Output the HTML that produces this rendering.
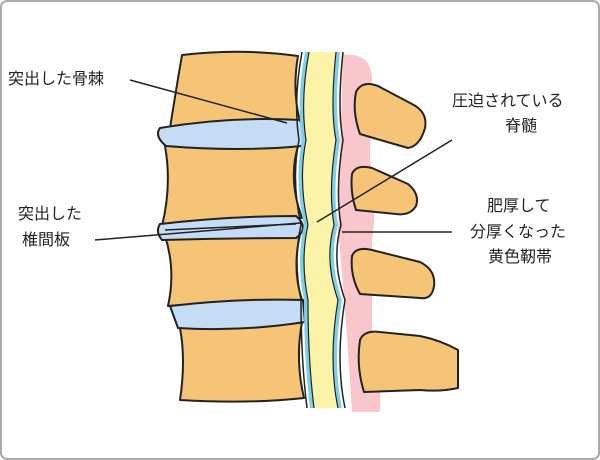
<!DOCTYPE html>
<html><head><meta charset="utf-8"><style>
html,body{margin:0;padding:0;background:#fff;}
svg{display:block;}
text{font-family:"Liberation Sans","Noto Sans CJK JP",sans-serif;font-size:16px;fill:#222;}
</style></head><body>
<svg width="600" height="460" viewBox="0 0 600 460">
<rect x="1" y="1" width="598" height="458" rx="6" fill="#fff" stroke="#aaa" stroke-width="2"/>
<path d="M343,55 Q372,52 372,80 L370,160 Q378,200 372,240 L372,330 Q382,380 380,412 L352,412 Q345,300 338,230 Q340,150 343,55Z" fill="#f9c6cc"/>
<g fill="#f5c477" stroke="#222" stroke-width="2" stroke-linejoin="round">
<path d="M182,55 Q240,48 298,56 Q292,90 300,122 Q240,118 170,128 Q176,90 182,55Z"/>
<path d="M165,146 Q240,140 298,146 Q288,180 302,218 Q240,216 162,226 Q172,185 165,146Z"/>
<path d="M165,236 Q240,230 300,234 Q292,270 302,300 Q240,300 168,306 Q176,270 165,236Z"/>
<path d="M180,328 Q240,322 302,322 Q295,360 304,398 Q250,404 180,400 Q186,360 180,328Z"/>
<path d="M356,92 Q362,80 378,86 L412,104 Q428,112 425,128 Q420,146 408,148 Q380,140 360,134 Q352,112 356,92Z"/>
<path d="M352,174 Q356,164 372,168 L408,184 Q420,194 416,206 Q410,216 396,214 L356,210 Q350,192 352,174Z"/>
<path d="M352,256 Q356,246 372,250 L420,262 Q436,270 434,286 Q432,300 420,298 L360,294 Q350,276 352,256Z"/>
<path d="M360,340 Q364,330 380,332 L420,336 Q440,340 458,350 L458,388 Q440,392 420,390 L364,392 Q356,366 360,340Z"/>
</g>
<g fill="#c4dcf4" stroke="#222" stroke-width="2">
<path d="M160,128 Q230,116 300,120 Q306,134 302,146 Q240,152 166,146 Q154,136 160,128Z"/>
<path d="M160,224 Q230,216 296,216 Q310,228 296,238 Q230,238 162,240 Q155,232 160,224Z"/>
<path d="M170,306 Q240,298 303,300 L305,322 Q240,332 178,328Z"/>
</g>
<path d="M165,230 L296,224" stroke="#222" stroke-width="1.5"/>
<path d="M307,52 L338,52 Q332,110 338,140 Q330,190 336,225 Q326,260 340,300 Q330,360 340,408 L312,408 Q306,360 306,300 Q298,260 306,225 Q296,180 304,140 Q298,100 307,52Z" fill="#fbf4a8"/>
<g fill="none" stroke-width="2">
<path d="M307,52 Q298,100 304,140 Q296,180 306,225 Q298,260 306,300 Q306,360 312,408" stroke="#7ed0e8" stroke-width="4"/>
<path d="M338,52 Q332,110 338,140 Q330,190 336,225 Q326,260 340,300 Q330,360 340,408" stroke="#7ed0e8" stroke-width="4"/>
<path d="M302,52 Q293,100 299,140 Q291,180 301,225 Q293,260 301,300 Q301,360 307,408" stroke="#222" stroke-width="1.5"/>
<path d="M309,52 Q300,100 306,140 Q298,180 308,225 Q300,260 308,300 Q308,360 314,408" stroke="#222" stroke-width="1.2"/>
<path d="M336,52 Q330,110 336,140 Q328,190 334,225 Q324,260 338,300 Q328,360 338,408" stroke="#222" stroke-width="1.2"/>
<path d="M343,52 Q337,110 343,140 Q335,190 341,225 Q331,260 345,300 Q335,360 345,408" stroke="#222" stroke-width="1.5"/>
</g>
<g stroke="#222" stroke-width="1.5">
<line x1="130" y1="80" x2="287" y2="123"/>
<line x1="95" y1="240" x2="300" y2="223"/>
<line x1="452" y1="140" x2="317" y2="222"/>
<line x1="342" y1="232" x2="452" y2="232"/>
</g>
<text x="8" y="84">突出した骨棘</text>
<text x="18" y="219">突出した</text>
<text x="22" y="245">椎間板</text>
<text x="452" y="106">圧迫されている</text>
<text x="505" y="131">脊髄</text>
<text x="487" y="211">肥厚して</text>
<text x="470" y="237">分厚くなった</text>
<text x="488" y="262">黄色靭帯</text>
</svg>
</body></html>
